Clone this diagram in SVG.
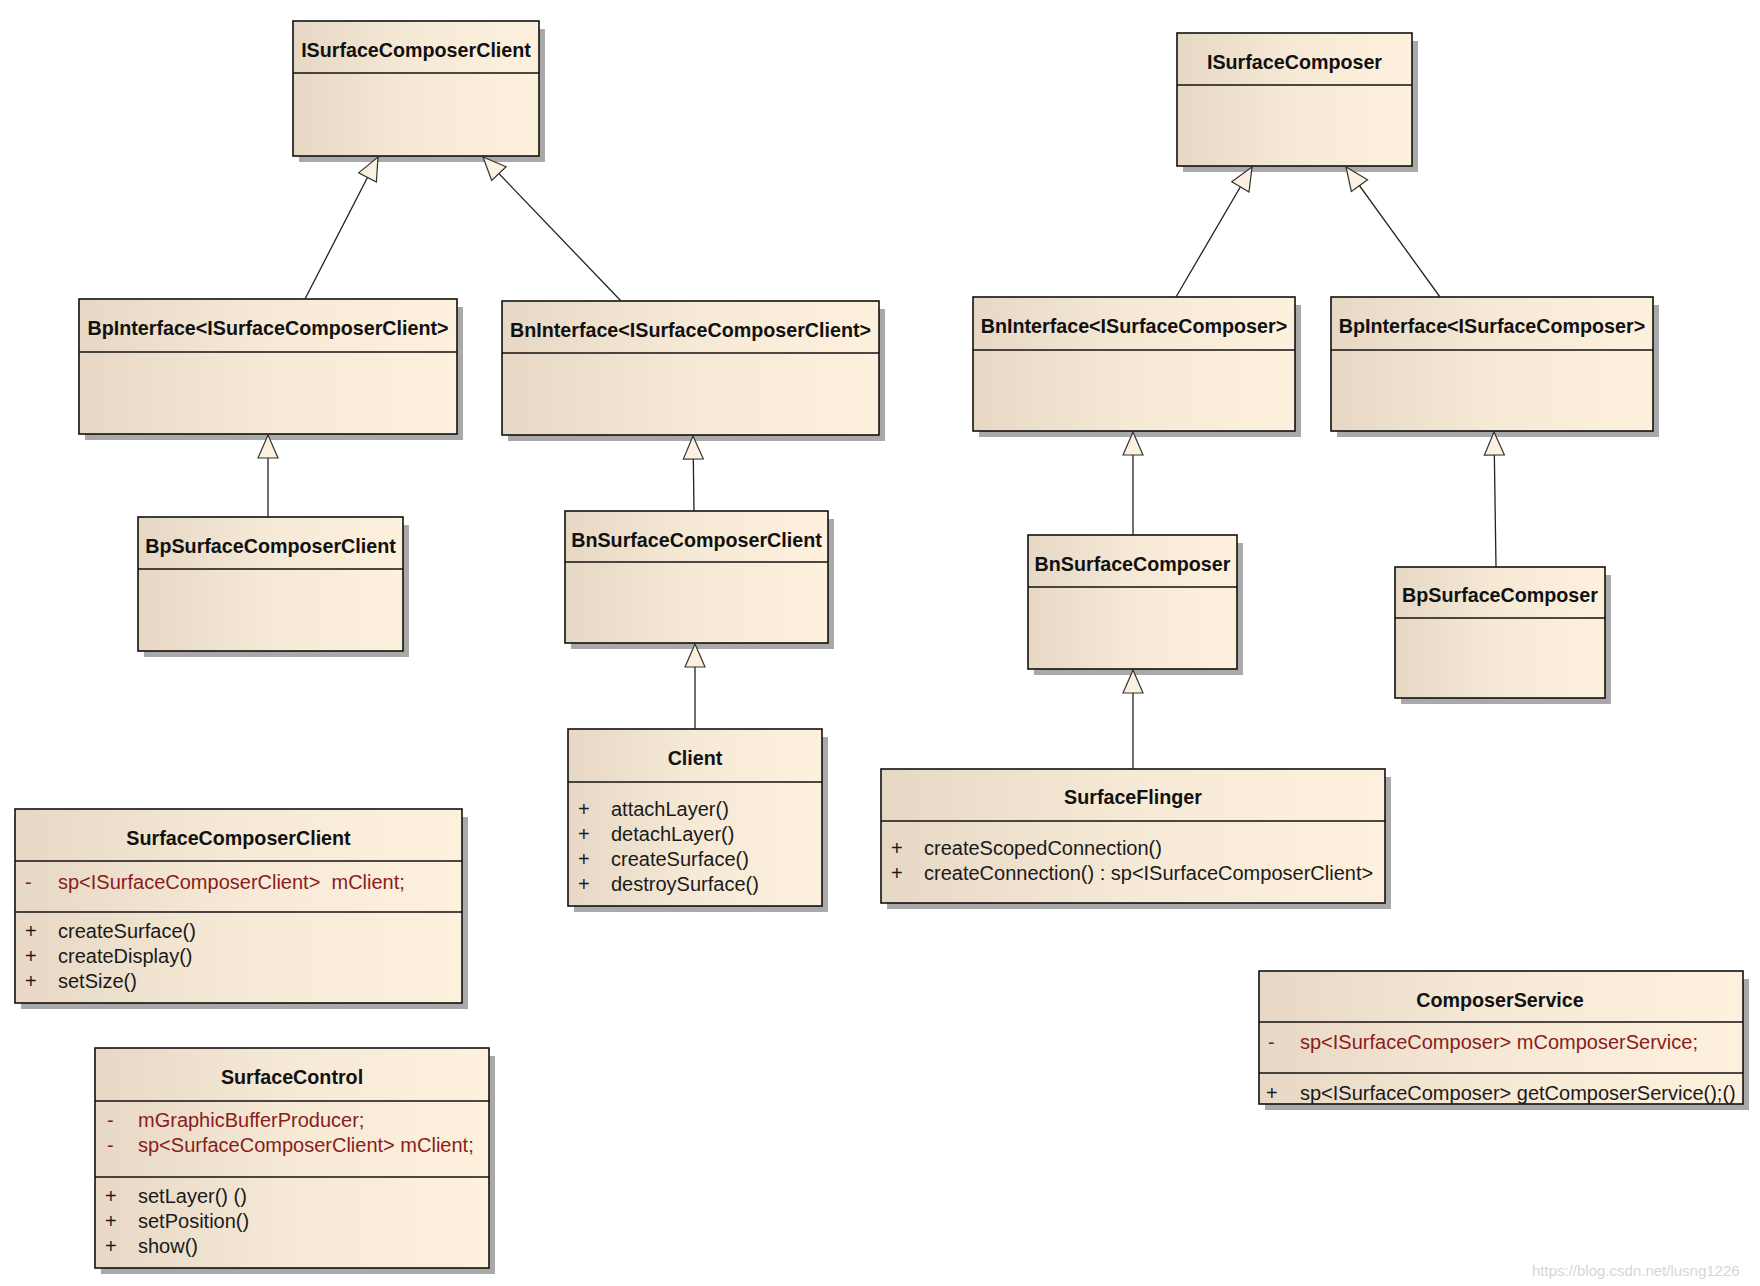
<svg xmlns="http://www.w3.org/2000/svg" width="1760" height="1286" viewBox="0 0 1760 1286">
<defs>
<linearGradient id="g" x1="0" y1="0" x2="1" y2="0">
<stop offset="0" stop-color="#e6d8c4"/>
<stop offset="0.5" stop-color="#f6e9d6"/>
<stop offset="1" stop-color="#fdf0dd"/>
</linearGradient>
<marker id="tri" viewBox="0 0 24 22" refX="24" refY="11" markerWidth="24" markerHeight="22" markerUnits="userSpaceOnUse" orient="auto">
<path d="M1,1 L24,11 L1,21 Z" fill="#fcf1e0" stroke="#333" stroke-width="1.2"/>
</marker>
</defs>
<style>
.sh{fill:#a9a9a9}
.bx{fill:url(#g);stroke:#111;stroke-width:1.6}
.dv{stroke:#111;stroke-width:1.4}
.t{font-family:"Liberation Sans",Arial,sans-serif;font-size:19.7px;font-weight:bold;fill:#111;text-anchor:middle}
.m{font-family:"Liberation Sans",Arial,sans-serif;font-size:20px;fill:#1a1a1a}
.a{font-family:"Liberation Sans",Arial,sans-serif;font-size:20px;fill:#8a1c1c}
.c{fill:none;stroke:#222;stroke-width:1.3;marker-end:url(#tri)}
.wm{font-family:"Liberation Sans",Arial,sans-serif;font-size:15px;fill:#d6d6d6}
</style>
<rect width="1760" height="1286" fill="#fff"/>

<g id="ISurfaceComposerClient">
<rect class="sh" x="299" y="29" width="246" height="133"/>
<rect class="bx" x="293" y="21" width="246" height="135"/>
<line class="dv" x1="293" y1="73" x2="539" y2="73"/>
<text class="t" x="416" y="57">ISurfaceComposerClient</text>
</g>

<g id="BpInterface_ISurfaceComposerClient">
<rect class="sh" x="85" y="307" width="378" height="133"/>
<rect class="bx" x="79" y="299" width="378" height="135"/>
<line class="dv" x1="79" y1="352" x2="457" y2="352"/>
<text class="t" x="268" y="335">BpInterface&lt;ISurfaceComposerClient&gt;</text>
</g>

<g id="BnInterface_ISurfaceComposerClient">
<rect class="sh" x="508" y="309" width="377" height="132"/>
<rect class="bx" x="502" y="301" width="377" height="134"/>
<line class="dv" x1="502" y1="353" x2="879" y2="353"/>
<text class="t" x="690.5" y="337">BnInterface&lt;ISurfaceComposerClient&gt;</text>
</g>

<g id="BpSurfaceComposerClient">
<rect class="sh" x="144" y="525" width="265" height="132"/>
<rect class="bx" x="138" y="517" width="265" height="134"/>
<line class="dv" x1="138" y1="569" x2="403" y2="569"/>
<text class="t" x="270.5" y="553">BpSurfaceComposerClient</text>
</g>

<g id="BnSurfaceComposerClient">
<rect class="sh" x="571" y="519" width="263" height="130"/>
<rect class="bx" x="565" y="511" width="263" height="132"/>
<line class="dv" x1="565" y1="562" x2="828" y2="562"/>
<text class="t" x="696.5" y="547">BnSurfaceComposerClient</text>
</g>

<g id="Client">
<rect class="sh" x="574" y="737" width="254" height="175"/>
<rect class="bx" x="568" y="729" width="254" height="177"/>
<line class="dv" x1="568" y1="782" x2="822" y2="782"/>
<text class="t" x="695" y="765">Client</text>
<text class="m" x="578" y="816">+</text><text class="m" x="611" y="816">attachLayer()</text>
<text class="m" x="578" y="841">+</text><text class="m" x="611" y="841">detachLayer()</text>
<text class="m" x="578" y="866">+</text><text class="m" x="611" y="866">createSurface()</text>
<text class="m" x="578" y="891">+</text><text class="m" x="611" y="891">destroySurface()</text>
</g>

<g id="SurfaceComposerClient">
<rect class="sh" x="21" y="817" width="447" height="192"/>
<rect class="bx" x="15" y="809" width="447" height="194"/>
<line class="dv" x1="15" y1="861" x2="462" y2="861"/>
<line class="dv" x1="15" y1="912" x2="462" y2="912"/>
<text class="t" x="238.5" y="845">SurfaceComposerClient</text>
<text class="a" x="25" y="889">-</text><text class="a" x="58" y="889">sp&lt;ISurfaceComposerClient&gt;&#160; mClient;</text>
<text class="m" x="25" y="938">+</text><text class="m" x="58" y="938">createSurface()</text>
<text class="m" x="25" y="963">+</text><text class="m" x="58" y="963">createDisplay()</text>
<text class="m" x="25" y="988">+</text><text class="m" x="58" y="988">setSize()</text>
</g>

<g id="SurfaceControl">
<rect class="sh" x="101" y="1056" width="394" height="218"/>
<rect class="bx" x="95" y="1048" width="394" height="220"/>
<line class="dv" x1="95" y1="1101" x2="489" y2="1101"/>
<line class="dv" x1="95" y1="1177" x2="489" y2="1177"/>
<text class="t" x="292" y="1084">SurfaceControl</text>
<text class="a" x="107" y="1127">-</text><text class="a" x="138" y="1127">mGraphicBufferProducer;</text>
<text class="a" x="107" y="1152">-</text><text class="a" x="138" y="1152">sp&lt;SurfaceComposerClient&gt; mClient;</text>
<text class="m" x="105" y="1203">+</text><text class="m" x="138" y="1203">setLayer() ()</text>
<text class="m" x="105" y="1228">+</text><text class="m" x="138" y="1228">setPosition()</text>
<text class="m" x="105" y="1253">+</text><text class="m" x="138" y="1253">show()</text>
</g>

<g id="ISurfaceComposer">
<rect class="sh" x="1183" y="41" width="235" height="131"/>
<rect class="bx" x="1177" y="33" width="235" height="133"/>
<line class="dv" x1="1177" y1="85" x2="1412" y2="85"/>
<text class="t" x="1294.5" y="69">ISurfaceComposer</text>
</g>

<g id="BnInterface_ISurfaceComposer">
<rect class="sh" x="979" y="305" width="322" height="132"/>
<rect class="bx" x="973" y="297" width="322" height="134"/>
<line class="dv" x1="973" y1="350" x2="1295" y2="350"/>
<text class="t" x="1134" y="333">BnInterface&lt;ISurfaceComposer&gt;</text>
</g>

<g id="BpInterface_ISurfaceComposer">
<rect class="sh" x="1337" y="305" width="322" height="132"/>
<rect class="bx" x="1331" y="297" width="322" height="134"/>
<line class="dv" x1="1331" y1="350" x2="1653" y2="350"/>
<text class="t" x="1492" y="333">BpInterface&lt;ISurfaceComposer&gt;</text>
</g>

<g id="BnSurfaceComposer">
<rect class="sh" x="1034" y="543" width="209" height="132"/>
<rect class="bx" x="1028" y="535" width="209" height="134"/>
<line class="dv" x1="1028" y1="587" x2="1237" y2="587"/>
<text class="t" x="1132.5" y="571">BnSurfaceComposer</text>
</g>

<g id="BpSurfaceComposer">
<rect class="sh" x="1401" y="575" width="210" height="129"/>
<rect class="bx" x="1395" y="567" width="210" height="131"/>
<line class="dv" x1="1395" y1="618" x2="1605" y2="618"/>
<text class="t" x="1500" y="602">BpSurfaceComposer</text>
</g>

<g id="SurfaceFlinger">
<rect class="sh" x="887" y="777" width="504" height="132"/>
<rect class="bx" x="881" y="769" width="504" height="134"/>
<line class="dv" x1="881" y1="821" x2="1385" y2="821"/>
<text class="t" x="1133" y="804">SurfaceFlinger</text>
<text class="m" x="891" y="855">+</text><text class="m" x="924" y="855">createScopedConnection()</text>
<text class="m" x="891" y="880">+</text><text class="m" x="924" y="880">createConnection() : sp&lt;ISurfaceComposerClient&gt;</text>
</g>

<g id="ComposerService">
<rect class="sh" x="1265" y="979" width="484" height="131"/>
<rect class="bx" x="1259" y="971" width="484" height="133"/>
<line class="dv" x1="1259" y1="1022" x2="1743" y2="1022"/>
<line class="dv" x1="1259" y1="1073" x2="1743" y2="1073"/>
<text class="t" x="1500" y="1007">ComposerService</text>
<text class="a" x="1268" y="1049">-</text><text class="a" x="1300" y="1049">sp&lt;ISurfaceComposer&gt; mComposerService;</text>
<text class="m" x="1266" y="1100">+</text><text class="m" x="1300" y="1100">sp&lt;ISurfaceComposer&gt; getComposerService();()</text>
</g>

<g id="connectors">
<line class="c" x1="305" y1="299" x2="378" y2="157"/>
<line class="c" x1="621" y1="301" x2="483" y2="157"/>
<line class="c" x1="268" y1="517" x2="268" y2="435"/>
<line class="c" x1="694" y1="511" x2="693" y2="436"/>
<line class="c" x1="695" y1="729" x2="695" y2="644"/>
<line class="c" x1="1176" y1="297" x2="1252" y2="167"/>
<line class="c" x1="1440" y1="297" x2="1346" y2="167"/>
<line class="c" x1="1133" y1="535" x2="1133" y2="432"/>
<line class="c" x1="1496" y1="567" x2="1494" y2="432"/>
<line class="c" x1="1133" y1="769" x2="1133" y2="670"/>
</g>

<text class="wm" x="1532" y="1276">https://blog.csdn.net/lusng1226</text>
</svg>
